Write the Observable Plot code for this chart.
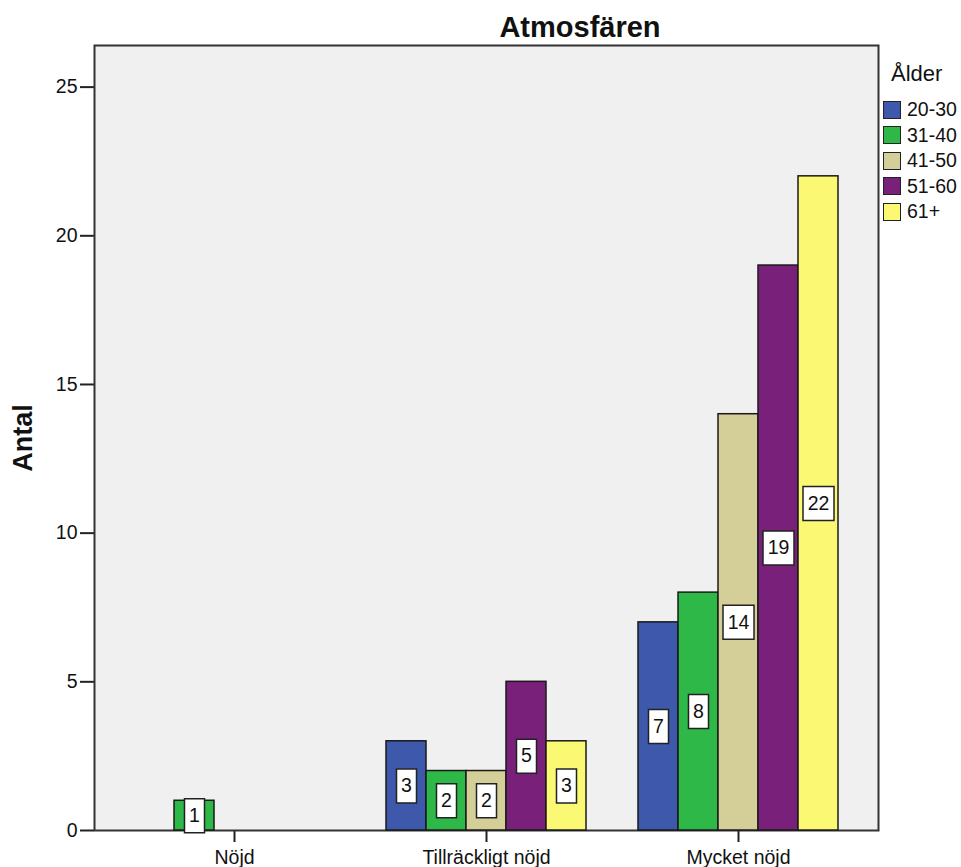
<!DOCTYPE html>
<html>
<head>
<meta charset="utf-8">
<script src="https://cdn.jsdelivr.net/npm/d3@7"></script>
<script src="https://cdn.jsdelivr.net/npm/@observablehq/plot@0.6"></script>
<style>
  html, body { margin: 0; padding: 0; background: #fff; }
  #chart { position: relative; width: 961px; height: 867px; overflow: hidden;
           font-family: "Liberation Sans", Arial, sans-serif; color: #111; }
  #chart svg { position: absolute; left: 0; top: 0; }
  #chart svg g[aria-label$="tick"] path { stroke: #222; stroke-width: 2px; }
  .title { position: absolute; left: 430px; width: 300px; top: 12.5px; text-align: center;
           font-size: 29px; font-weight: bold; line-height: 29px; }
  .ylabel { position: absolute; left: 23px; top: 438px; white-space: nowrap;
            transform: translate(-50%, -50%) rotate(-90deg);
            font-size: 27px; font-weight: bold; line-height: 27px; }
  .legend { position: absolute; left: 883px; top: 63.4px; }
  .legend .ltitle { font-size: 22px; line-height: 22px; margin-left: 8px; margin-bottom: 11.85px; }
  .legend .row { display: flex; align-items: center; height: 25.5px; font-size: 19.5px; }
  .legend .sw { width: 16px; height: 16px; border: 1.5px solid #222; margin-right: 6px; }
</style>
</head>
<body>
<div id="chart">
  <div class="title">Atmosfären</div>
  <div class="ylabel">Antal</div>
  <div class="legend" id="legend"></div>
</div>
<script>
// Satisfaction categories along the x axis
const groups = ["Nöjd", "Tillräckligt nöjd", "Mycket nöjd"];
// Age brackets (one bar per bracket inside each category)
const ages = ["20-30", "31-40", "41-50", "51-60", "61+"];
// Counts per age bracket, in the order of `groups`
const count20_30 = [0, 3, 7];
const count31_40 = [1, 2, 8];
const count41_50 = [0, 2, 14];
const count51_60 = [0, 5, 19];
const count61 = [0, 3, 22];
const ageColors = ["#3e58ac", "#2eb848", "#d4cf98", "#79207a", "#fbf874"];
const yTicks = [0, 5, 10, 15, 20, 25];

const series = [count20_30, count31_40, count41_50, count51_60, count61];

// x is measured in bar slots: each bar takes one slot, and category
// centres are 6.3 slots apart (five bars plus the gap between clusters).
const GROUP_STEP = 6.3;
const rows = [];
series.forEach((values, a) => {
  values.forEach((v, g) => {
    if (v > 0) {
      const x1 = g * GROUP_STEP + a - ages.length / 2;
      rows.push({group: groups[g], age: ages[a], value: v, x1, x2: x1 + 1});
    }
  });
});

const mid = d => (d.x1 + d.x2) / 2;
// White value boxes drawn as custom dot symbols
const boxNarrow = {draw(ctx) { ctx.rect(-10, -17, 20, 34); }};
const boxWide = {draw(ctx) { ctx.rect(-15.5, -17, 31, 34); }};

const plot = Plot.plot({
  width: 961,
  height: 867,
  marginLeft: 94,
  marginRight: 83,
  marginTop: 45,
  marginBottom: 37,
  style: {fontFamily: "'Liberation Sans', Arial, sans-serif", fontSize: "19.5px", color: "#111", background: "transparent"},
  x: {
    type: "linear",
    domain: [-3.5, (groups.length - 1) * GROUP_STEP + 3.5],
    ticks: groups.map((_, i) => i * GROUP_STEP),
    tickFormat: d => groups[Math.round(d / GROUP_STEP)],
    tickSize: 12,
    tickPadding: 8,
    label: null
  },
  y: {
    domain: [0, 26.4],
    ticks: yTicks,
    tickSize: 14,
    tickPadding: 3,
    label: null
  },
  color: {domain: ages, range: ageColors},
  marks: [
    Plot.frame({fill: "#f0f0f0", stroke: "#333", strokeWidth: 2}),
    Plot.rectY(rows, {x1: "x1", x2: "x2", y: "value", fill: "age", stroke: "#1a1a1a", strokeWidth: 1.5}),
    Plot.dot(rows.filter(d => d.value < 10), {x: mid, y: d => d.value / 2, symbol: boxNarrow, fill: "white", stroke: "#222", strokeWidth: 1.5}),
    Plot.dot(rows.filter(d => d.value >= 10), {x: mid, y: d => d.value / 2, symbol: boxWide, fill: "white", stroke: "#222", strokeWidth: 1.5}),
    Plot.text(rows, {x: mid, y: d => d.value / 2, text: d => String(d.value), fontSize: 19.5, fill: "#111"})
  ]
});
document.getElementById("chart").prepend(plot);

// Legend for the age brackets
const legend = document.getElementById("legend");
legend.innerHTML = `<div class="ltitle">Ålder</div>` +
  ages.map((a, i) => `<div class="row"><div class="sw" style="background:${ageColors[i]}"></div><span>${a}</span></div>`).join("");
</script>
</body>
</html>
